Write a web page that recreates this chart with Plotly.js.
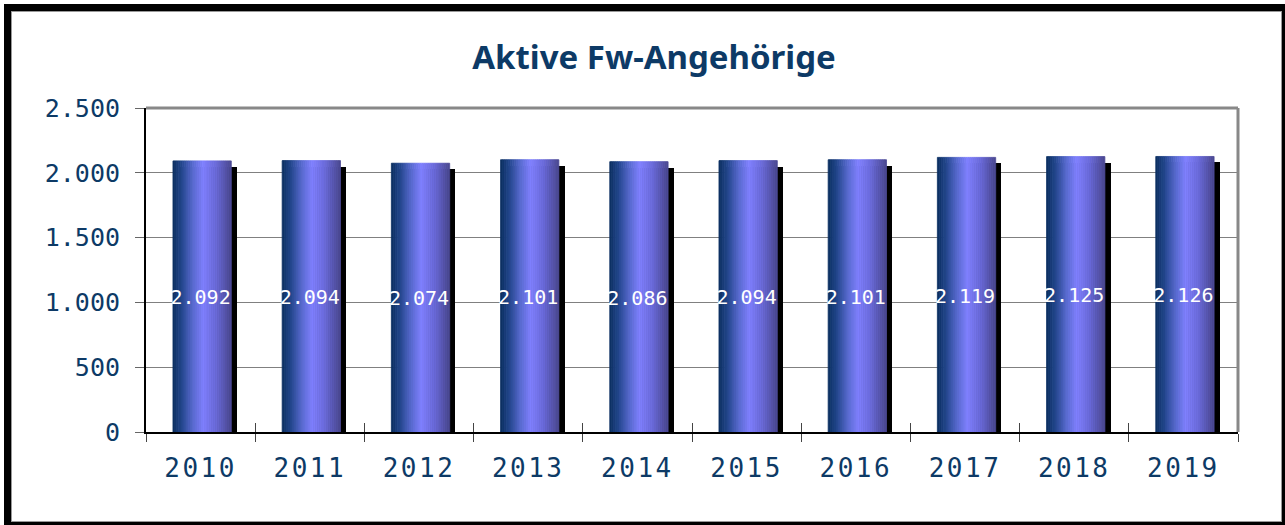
<!DOCTYPE html>
<html>
<head>
<meta charset="utf-8">
<script src="https://cdn.plot.ly/plotly-3.0.1.min.js"></script>
<style>
  html, body { margin: 0; padding: 0; background: #ffffff; }
  #wrap { position: relative; width: 1285px; height: 525px; overflow: hidden; }
  #frame {
    position: absolute; left: 4px; top: 4px; width: 1281px; height: 521px;
    box-sizing: border-box; border-style: solid; border-color: #000;
    border-width: 7px 3px 3px 7px; box-shadow: inset 0 0 0 1px #999;
  }
  #chart { position: absolute; left: 0; top: 0; width: 1285px; height: 525px; }
  .xtick text { letter-spacing: 2.5px; }
</style>
</head>
<body>
<div id="wrap">
  <div id="frame"></div>
  <div id="chart"></div>
</div>
<script>
// ---- data ----
const years = ['2010', '2011', '2012', '2013', '2014', '2015', '2016', '2017', '2018', '2019'];
const members = [2092, 2094, 2074, 2101, 2086, 2094, 2101, 2119, 2125, 2126];
const chartTitle = 'Aktive Fw-Angehörige';
const yTickVals = [0, 500, 1000, 1500, 2000, 2500];

// ---- style ----
const navy = '#0d3a66';
const gradStops = [
  [0.00, [10, 46, 94]],
  [0.15, [35, 70, 140]],
  [0.35, [90, 108, 210]],
  [0.52, [128, 128, 255]],
  [0.75, [106, 106, 216]],
  [1.00, [74, 72, 144]]
];
function gradColor(t) {
  for (let i = 1; i < gradStops.length; i++) {
    if (t <= gradStops[i][0]) {
      const a = gradStops[i - 1], b = gradStops[i];
      const f = (t - a[0]) / (b[0] - a[0]);
      const c = a[1].map((v, k) => Math.round(v + (b[1][k] - v) * f));
      return 'rgb(' + c.join(',') + ')';
    }
  }
  const l = gradStops[gradStops.length - 1][1];
  return 'rgb(' + l.join(',') + ')';
}
function fmt(v) { return String(v).replace(/\B(?=(\d{3})+(?!\d))/g, '.'); }

const barOffset = -0.253, barWidth = 0.534;
const shadowOffset = -0.189, shadowWidth = 0.522;
const shadowDrop = 46, shadowBase = -27;
const labelDrop = 22; // small downward nudge of the value labels (data units)

const traces = [];
// shadow bars
traces.push({
  type: 'bar', x: years,
  y: members.map(v => v - shadowDrop - shadowBase),
  base: shadowBase,
  offset: shadowOffset, width: shadowWidth,
  marker: { color: '#000000', line: { width: 0 } },
  hoverinfo: 'skip', showlegend: false
});
// gradient bars as vertical stripes
const N = 30;
for (let i = 0; i < N; i++) {
  const col = gradColor((i + 0.5) / N);
  traces.push({
    type: 'bar', x: years, y: members,
    offset: barOffset + i * barWidth / N,
    width: barWidth / N,
    marker: { color: col, line: { color: col, width: 0.8 } },
    hoverinfo: 'skip', showlegend: false
  });
}
// value labels
traces.push({
  type: 'scatter', mode: 'text', x: years,
  y: members.map(v => v / 2 - labelDrop),
  text: members.map(fmt),
  textposition: 'middle center',
  textfont: { family: 'DejaVu Sans Mono', size: 20, color: '#ffffff' },
  hoverinfo: 'skip', showlegend: false, cliponaxis: false
});

const layout = {
  width: 1285, height: 525,
  margin: { l: 146, r: 47, t: 108, b: 93, pad: 0 },
  paper_bgcolor: 'rgba(0,0,0,0)',
  plot_bgcolor: '#ffffff',
  barmode: 'overlay',
  bargap: 0,
  separators: ',.',
  showlegend: false,
  title: {
    text: '<b>' + chartTitle + '</b>',
    font: { family: 'Noto Sans', size: 33, color: navy },
    xref: 'container', x: 654 / 1285, xanchor: 'center',
    yref: 'container', y: 1 - 57 / 525, yanchor: 'middle'
  },
  xaxis: {
    type: 'category', categoryorder: 'array', categoryarray: years,
    range: [-0.5, years.length - 0.5],
    tickson: 'boundaries', ticks: 'outside', ticklen: 8, tickwidth: 1, tickcolor: '#444',
    showline: true, linecolor: '#000', linewidth: 2,
    showgrid: false, zeroline: false,
    tickfont: { family: 'DejaVu Sans Mono', size: 26, color: navy },
    ticklabelstandoff: 12
  },
  xaxis2: {
    type: 'category', categoryorder: 'array', categoryarray: years,
    range: [-0.5, years.length - 0.5], overlaying: 'x', side: 'bottom', anchor: 'y',
    tickson: 'boundaries', ticks: 'inside', ticklen: 9, tickwidth: 1, tickcolor: '#444',
    showticklabels: false, showgrid: false, zeroline: false, showline: false
  },
  yaxis: {
    range: [0, 2500], tickvals: yTickVals, tickformat: ',d',
    ticks: 'outside', ticklen: 9, tickwidth: 1, tickcolor: '#666',
    showline: true, linecolor: '#000', linewidth: 2,
    showgrid: true, gridcolor: '#808080', gridwidth: 1,
    zeroline: false,
    tickfont: { family: 'DejaVu Sans Mono', size: 25, color: navy },
    ticklabelstandoff: 10
  },
  shapes: [
    { type: 'line', xref: 'paper', yref: 'paper', x0: 0, x1: 1, y0: 1, y1: 1,
      line: { color: '#888888', width: 3 }, layer: 'above' },
    { type: 'line', xref: 'paper', yref: 'paper', x0: 1, x1: 1, y0: 0, y1: 1,
      line: { color: '#888888', width: 3 }, layer: 'above' }
  ]
};
// dummy trace on xaxis2 so it is drawn
traces.push({ type: 'scatter', mode: 'none', x: years, y: members.map(() => 0), xaxis: 'x2', yaxis: 'y', hoverinfo: 'skip', showlegend: false });

Plotly.newPlot('chart', traces, layout, { staticPlot: true });
</script>
</body>
</html>
